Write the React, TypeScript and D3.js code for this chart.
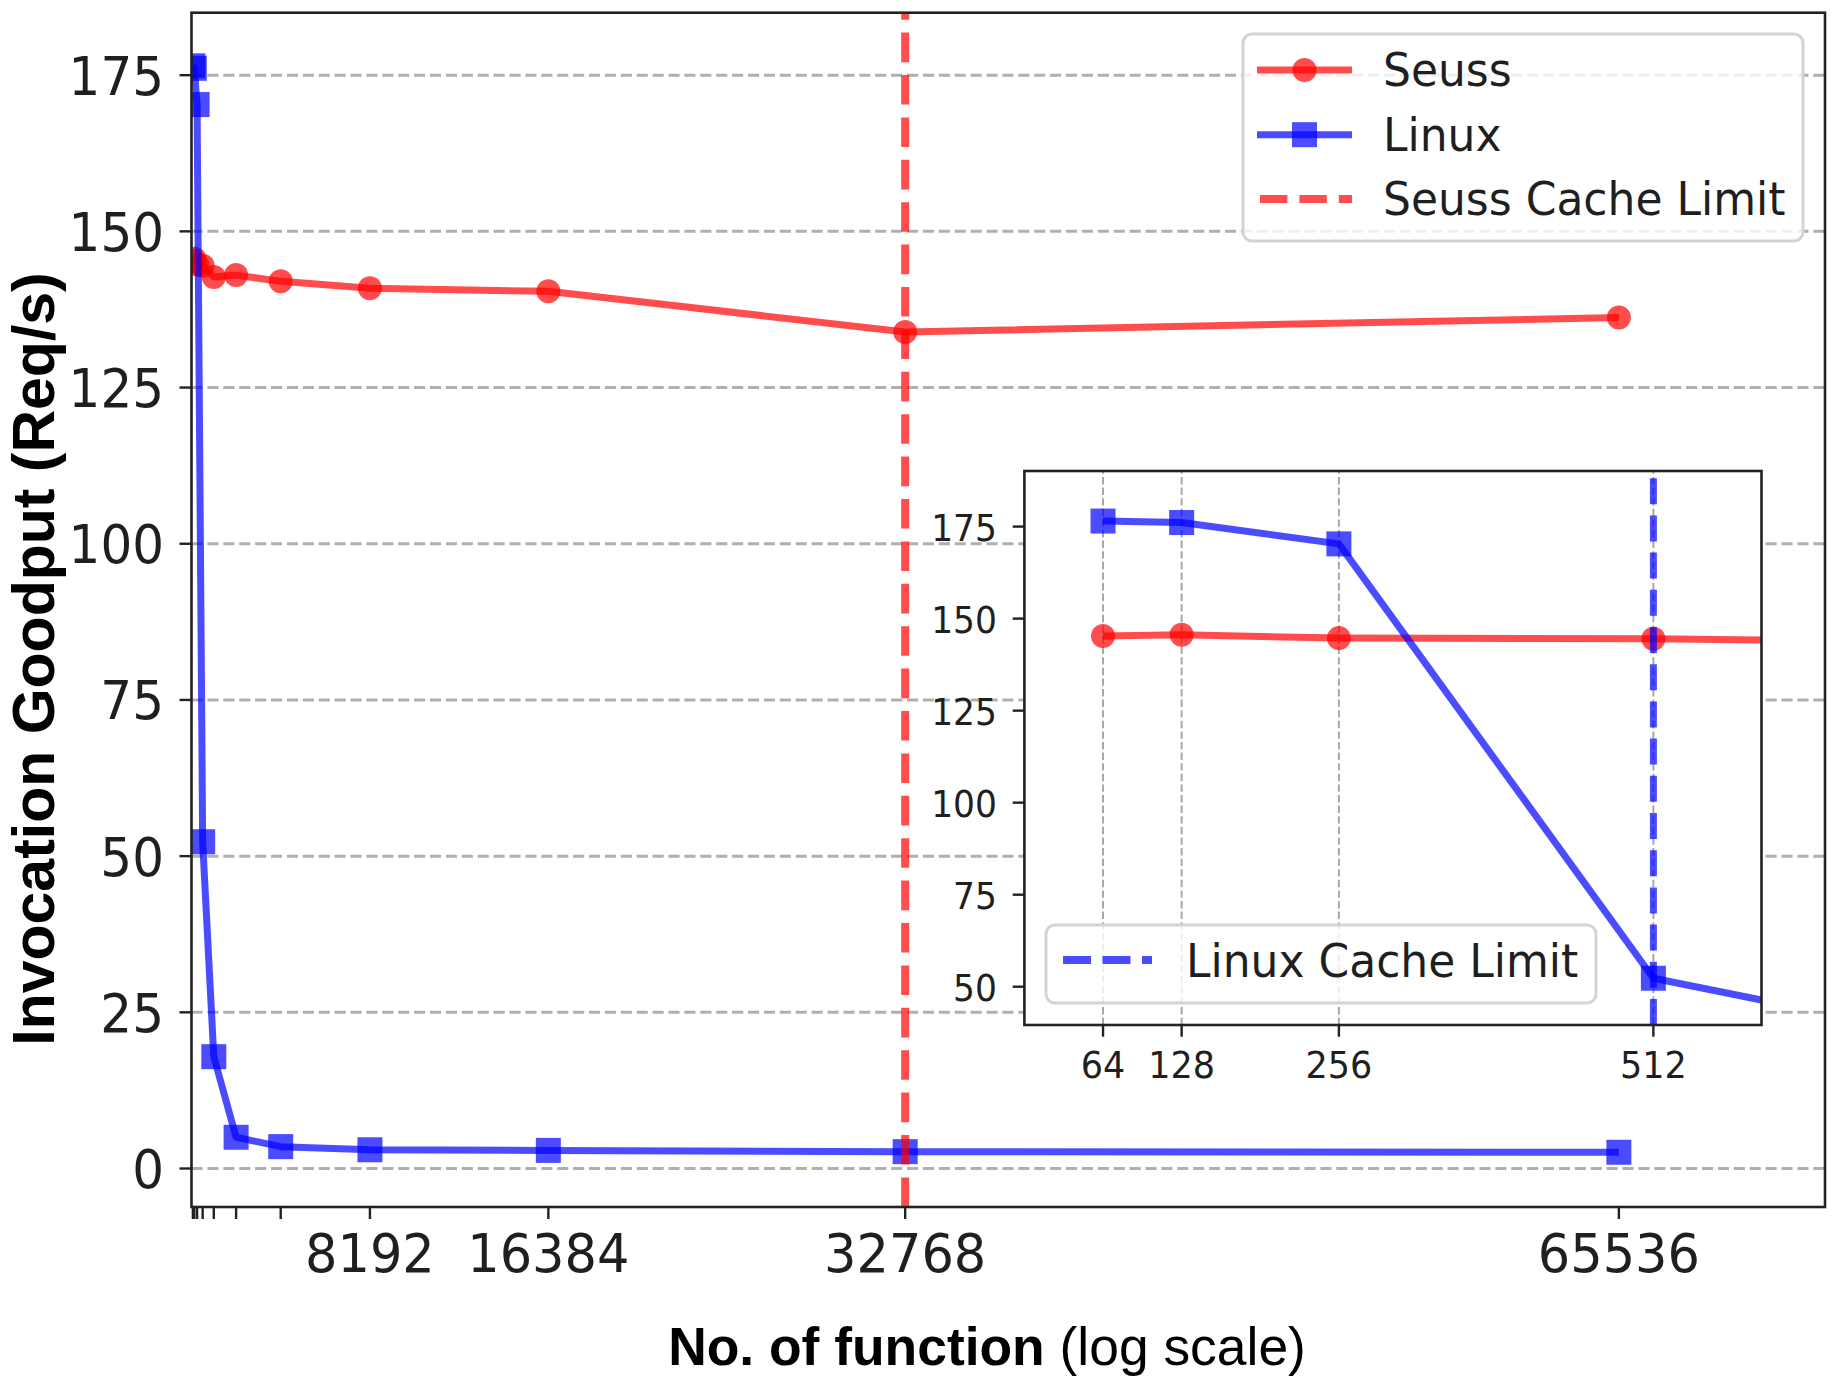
import React from 'react';
import * as d3 from 'd3';

// ---------- data ----------
const functionCounts = [64, 128, 256, 512, 1024, 2048, 4096, 8192, 16384, 32768, 65536];
const seussGoodput = [145.3, 145.6, 144.7, 144.5, 142.7, 143.0, 142.0, 140.9, 140.4, 133.9, 136.2];
const linuxGoodput = [176.5, 176.1, 170.3, 52.3, 17.9, 5.0, 3.5, 3.0, 2.9, 2.7, 2.6];

const mainXTicks = [64, 128, 256, 512, 1024, 2048, 4096, 8192, 16384, 32768, 65536];
const mainXTickLabels = ['', '', '', '', '', '', '', '8192', '16384', '32768', '65536'];
const mainYTicks = [0, 25, 50, 75, 100, 125, 150, 175];
const insetXTicks = [64, 128, 256, 512];
const insetXTickLabels = ['64', '128', '256', '512'];
const insetYTicks = [50, 75, 100, 125, 150, 175];

const seussCacheLimit = 32768;
const linuxCacheLimit = 512;

const legendMain = ['Seuss', 'Linux', 'Seuss Cache Limit'];
const legendInset = ['Linux Cache Limit'];

// ---------- styling ----------
const W = 1832;
const H = 1384;
const RED = 'rgb(255,0,0)';
const BLUE = 'rgb(0,0,255)';
const ALPHA = 0.7;
const LW = 7;
const TXT = '#1f1f1f';
const DV = 'DejaVu Sans';
const LIB = 'Liberation Sans';
const SY = 1.06;

const M = { left: 191.5, right: 1825, top: 12.7, bottom: 1207 };
const I = { left: 1024.4, right: 1761.5, top: 471, bottom: 1025 };

type Pt = [number, number];

function Marker({ kind, cx, cy, color }: { kind: 'circle' | 'square'; cx: number; cy: number; color: string }) {
  if (kind === 'circle') {
    return <circle cx={cx} cy={cy} r={12} fill={color} fillOpacity={ALPHA} />;
  }
  return <rect x={cx - 12.5} y={cy - 12.5} width={25} height={25} fill={color} fillOpacity={ALPHA} />;
}

function T({ x, y, size, anchor = 'start', children, family = DV, weight = 'normal', sy = SY }: any) {
  return (
    <text
      transform={`translate(${x},${y}) scale(1,${sy})`}
      fontFamily={family}
      fontSize={size}
      fontWeight={weight}
      textAnchor={anchor}
      fill={TXT}
    >
      {children}
    </text>
  );
}

export default function App() {
  const x = d3.scaleLinear().domain([0, 75000]).range([M.left, M.right]);
  const y = d3.scaleLinear().domain([-6.16, 185]).range([M.bottom, M.top]);
  const xi = d3.scaleLinear().domain([0, 600]).range([I.left, I.right]);
  const yi = d3.scaleLinear().domain([39.6, 190.1]).range([I.bottom, I.top]);

  const seussPts: Pt[] = functionCounts.map((c, i) => [c, seussGoodput[i]]);
  const linuxPts: Pt[] = functionCounts.map((c, i) => [c, linuxGoodput[i]]);

  const mainLine = d3.line<Pt>().x((d) => x(d[0])).y((d) => y(d[1]));
  const insetLine = d3.line<Pt>().x((d) => xi(d[0])).y((d) => yi(d[1]));

  const series = (
    pts: Pt[],
    line: d3.Line<Pt>,
    sx: (v: number) => number,
    sy: (v: number) => number,
    color: string,
    kind: 'circle' | 'square'
  ) => (
    <g>
      <path d={line(pts) || ''} fill="none" stroke={color} strokeOpacity={ALPHA} strokeWidth={LW} strokeLinejoin="round" strokeLinecap="butt" />
      {pts.map((d, i) => (
        <Marker key={i} kind={kind} cx={sx(d[0])} cy={sy(d[1])} color={color} />
      ))}
    </g>
  );

  return (
    <svg width={W} height={H} style={{ position: 'absolute', left: 0, top: 0, background: '#fff' }}>
      <defs>
        <clipPath id="clipMain">
          <rect x={M.left} y={M.top} width={M.right - M.left} height={M.bottom - M.top} />
        </clipPath>
        <clipPath id="clipInset">
          <rect x={I.left} y={I.top} width={I.right - I.left} height={I.bottom - I.top} />
        </clipPath>
      </defs>
      <rect x={0} y={0} width={W} height={H} fill="#fff" />

      {/* ---------- main axes ---------- */}
      <g clipPath="url(#clipMain)">
        {mainYTicks.map((t) => (
          <line key={t} x1={M.left} x2={M.right} y1={y(t)} y2={y(t)} stroke="#b0b0b0" strokeWidth={3} strokeDasharray="11.1,4.8" />
        ))}
        {series(seussPts, mainLine, x, y, RED, 'circle')}
        {series(linuxPts, mainLine, x, y, BLUE, 'square')}
        <line
          x1={x(seussCacheLimit)}
          x2={x(seussCacheLimit)}
          y1={M.bottom}
          y2={M.top}
          stroke={RED}
          strokeOpacity={ALPHA}
          strokeWidth={8}
          strokeDasharray="29.6,12.8"
        />
      </g>
      <rect x={M.left} y={M.top} width={M.right - M.left} height={M.bottom - M.top} fill="none" stroke="#222" strokeWidth={2.6} />
      {mainXTicks.map((t, i) => (
        <g key={t}>
          <line x1={x(t)} x2={x(t)} y1={M.bottom} y2={M.bottom + 12} stroke="#222" strokeWidth={2.4} />
          {mainXTickLabels[i] && (
            <T x={x(t)} y={1272} size={51} anchor="middle">
              {mainXTickLabels[i]}
            </T>
          )}
        </g>
      ))}
      {mainYTicks.map((t) => (
        <g key={t}>
          <line x1={M.left - 12} x2={M.left} y1={y(t)} y2={y(t)} stroke="#222" strokeWidth={2.4} />
          <T x={164} y={y(t) + 19.5} size={50} anchor="end">
            {String(t)}
          </T>
        </g>
      ))}

      {/* axis labels */}
      <text x={987} y={1365} fontFamily={LIB} fontSize={53.4} textAnchor="middle" fill="#000">
        <tspan fontWeight="bold">No. of function</tspan>
        <tspan> (log scale)</tspan>
      </text>
      <text
        transform={`translate(54.3,659) rotate(-90)`}
        fontFamily={LIB}
        fontSize={59}
        fontWeight="bold"
        textAnchor="middle"
        fill="#000"
      >
        Invocation Goodput (Req/s)
      </text>

      {/* main legend */}
      <g>
        <rect x={1243} y={34} width={560} height={207} rx={9} fill="#fff" fillOpacity={0.8} stroke="#d4d4d4" strokeWidth={3} />
        <line x1={1257} x2={1352} y1={70} y2={70} stroke={RED} strokeOpacity={ALPHA} strokeWidth={LW} />
        <Marker kind="circle" cx={1304.5} cy={70} color={RED} />
        <line x1={1257} x2={1352} y1={134.7} y2={134.7} stroke={BLUE} strokeOpacity={ALPHA} strokeWidth={LW} />
        <Marker kind="square" cx={1304.5} cy={134.7} color={BLUE} />
        <line x1={1260} x2={1352} y1={199} y2={199} stroke={RED} strokeOpacity={ALPHA} strokeWidth={8} strokeDasharray="27.4,12" />
        {legendMain.map((s, i) => (
          <T key={s} x={1383} y={86 + i * 64.5} size={44}>
            {s}
          </T>
        ))}
      </g>

      {/* ---------- inset axes ---------- */}
      <rect x={I.left} y={I.top} width={I.right - I.left} height={I.bottom - I.top} fill="#fff" />
      <g clipPath="url(#clipInset)">
        {insetXTicks.map((t) => (
          <line key={t} x1={xi(t)} x2={xi(t)} y1={I.bottom} y2={I.top} stroke="#a8a8a8" strokeWidth={2} strokeDasharray="7.4,3.2" />
        ))}
        {series(seussPts, insetLine, xi, yi, RED, 'circle')}
        {series(linuxPts, insetLine, xi, yi, BLUE, 'square')}
        <line
          x1={xi(linuxCacheLimit)}
          x2={xi(linuxCacheLimit)}
          y1={I.bottom}
          y2={I.top}
          stroke={BLUE}
          strokeOpacity={ALPHA}
          strokeWidth={7}
          strokeDasharray="26,11.2"
        />
      </g>
      <rect x={I.left} y={I.top} width={I.right - I.left} height={I.bottom - I.top} fill="none" stroke="#222" strokeWidth={2.6} />
      {insetXTicks.map((t, i) => (
        <g key={t}>
          <line x1={xi(t)} x2={xi(t)} y1={I.bottom} y2={I.bottom + 11.7} stroke="#222" strokeWidth={2.4} />
          <T x={xi(t)} y={1078} size={35} anchor="middle">
            {insetXTickLabels[i]}
          </T>
        </g>
      ))}
      {insetYTicks.map((t) => (
        <g key={t}>
          <line x1={I.left - 11.7} x2={I.left} y1={yi(t)} y2={yi(t)} stroke="#222" strokeWidth={2.4} />
          <T x={997} y={yi(t) + 14} size={34.5} anchor="end">
            {String(t)}
          </T>
        </g>
      ))}

      {/* inset legend */}
      <g>
        <rect x={1046} y={925} width={550} height={78} rx={9} fill="#fff" fillOpacity={0.8} stroke="#d4d4d4" strokeWidth={3} />
        <line x1={1063} x2={1152} y1={960} y2={960} stroke={BLUE} strokeOpacity={ALPHA} strokeWidth={8} strokeDasharray="28,11.5" />
        <T x={1186} y={976.7} size={44}>
          {legendInset[0]}
        </T>
      </g>
    </svg>
  );
}
